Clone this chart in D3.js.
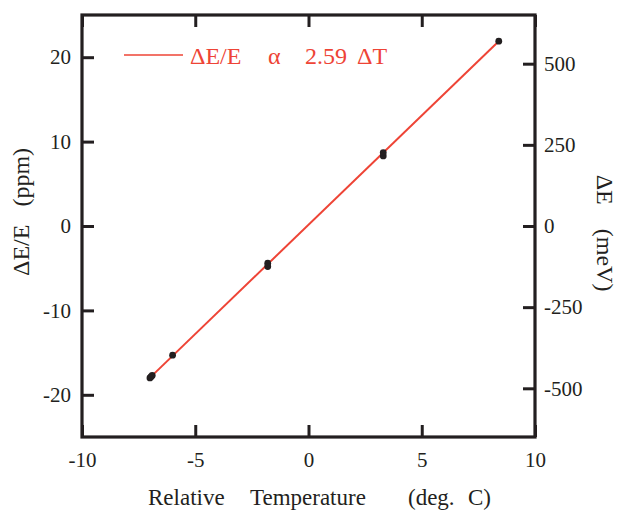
<!DOCTYPE html>
<html>
<head>
<meta charset="utf-8">
<script src="https://cdn.jsdelivr.net/npm/d3@7"></script>
<style>
  body { margin: 0; background: #fff; }
  svg text { font-family: "Liberation Serif", "DejaVu Serif", "Times New Roman", Times, serif; fill: #231f20; white-space: pre; }
</style>
</head>
<body>
<svg id="chart" width="620" height="512"></svg>
<script>
// measured points: relative temperature (deg C) vs dE/E (ppm)
var tempVals = [-7.0, -6.9, -6.95, -6.0, -1.8, -1.8, 3.3, 3.3, 8.4];
var ppmVals  = [-18.0, -17.7, -17.85, -15.3, -4.4, -4.8, 8.3, 8.7, 21.9];

// fitted line end points (dE/E ~ 2.59 dT)
var fitTemp = [-6.95, 8.4];
var fitPpm  = [-17.85, 21.9];

var xTicks = [-10, -5, 0, 5, 10];
var yTicks = [-20, -10, 0, 10, 20];
var meVTicks = [-500, -250, 0, 250, 500];

// legend and title pieces, spread out like the original
var legendParts = ["\u0394E/E", "\u03b1", "2.59", "\u0394T"];
var legendX = [190, 268, 305, 357];
var xTitleParts = ["Relative", "Temperature", "(deg.", "C)"];
var xTitleX = [148, 250, 408, 468];

var INK = "#231f20";
var RED = "#ee4436";
var SERIF = "'Liberation Serif', 'DejaVu Serif', 'Times New Roman', serif";

// plot box (don't call these top/left: window.top is taken)
var plotL = 82, plotR = 535, plotT = 15, plotB = 437;

var svg = d3.select("#chart");

var x = d3.scaleLinear().domain([-10, 10]).range([plotL, plotR]);
var y = d3.scaleLinear().domain([-25, 25]).range([plotB, plotT]);
var yE = d3.scaleLinear().domain([-650, 650]).range([plotB, plotT]);

// axes, ticks pointing inward
var tickLen = 12;
var plain = function (d) { return String(d); };

function styleAxis(g) {
    g.attr("font-family", null).attr("font-size", null);
    g.select(".domain").remove();
    g.selectAll(".tick line").attr("stroke", INK).attr("stroke-width", 3);
    g.selectAll(".tick text").attr("fill", INK)
        .style("font-family", SERIF).style("font-size", "21px");
}

svg.append("g")
    .attr("transform", "translate(0," + plotB + ")")
    .call(d3.axisBottom(x).tickValues(xTicks).tickSize(-tickLen).tickPadding(15)
        .tickFormat(plain))
    .call(styleAxis);

svg.append("g")
    .attr("transform", "translate(0," + plotT + ")")
    .call(d3.axisTop(x).tickValues(xTicks).tickSize(-tickLen).tickFormat(""))
    .call(styleAxis);

svg.append("g")
    .attr("transform", "translate(" + plotL + ",0)")
    .call(d3.axisLeft(y).tickValues(yTicks).tickSize(-tickLen).tickPadding(11)
        .tickFormat(plain))
    .call(styleAxis);

svg.append("g")
    .attr("transform", "translate(" + plotR + ",0)")
    .call(d3.axisRight(yE).tickValues(meVTicks).tickSize(-tickLen).tickPadding(9)
        .tickFormat(plain))
    .call(styleAxis);

// frame
svg.append("rect")
    .attr("x", plotL).attr("y", plotT)
    .attr("width", plotR - plotL).attr("height", plotB - plotT)
    .attr("fill", "none").attr("stroke", INK).attr("stroke-width", 3.2);

// fit line
var line = d3.line()
    .x(function (d) { return x(d[0]); })
    .y(function (d) { return y(d[1]); });

svg.append("path")
    .datum(d3.zip(fitTemp, fitPpm))
    .attr("d", line)
    .attr("fill", "none")
    .attr("stroke", RED)
    .attr("stroke-width", 2);

// data points
svg.append("g").selectAll("circle")
    .data(d3.zip(tempVals, ppmVals)).enter()
    .append("circle")
    .attr("cx", function (d) { return x(d[0]); })
    .attr("cy", function (d) { return y(d[1]); })
    .attr("r", 3.4)
    .attr("fill", INK);

// legend
svg.append("line")
    .attr("x1", 124).attr("x2", 183)
    .attr("y1", 55).attr("y2", 55)
    .attr("stroke", RED).attr("stroke-width", 1.5);

svg.append("text")
    .attr("y", 64)
    .style("font-family", SERIF)
    .style("font-size", "24px")
    .style("fill", RED)
    .selectAll("tspan")
    .data(d3.zip(legendParts, legendX)).enter()
    .append("tspan")
    .attr("x", function (d) { return d[1]; })
    .text(function (d) { return d[0]; });

// axis titles
svg.append("text")
    .attr("y", 505)
    .style("font-family", SERIF)
    .style("font-size", "23px")
    .selectAll("tspan")
    .data(d3.zip(xTitleParts, xTitleX)).enter()
    .append("tspan")
    .attr("x", function (d) { return d[1]; })
    .text(function (d) { return d[0]; });

svg.append("text")
    .attr("transform", "translate(29,212) rotate(-90)")
    .attr("text-anchor", "middle")
    .style("font-family", SERIF)
    .style("font-size", "24px")
    .text("\u0394E/E   (ppm)");

svg.append("text")
    .attr("transform", "translate(597,233) rotate(90)")
    .attr("text-anchor", "middle")
    .style("font-family", SERIF)
    .style("font-size", "24px")
    .text("\u0394E    (meV)");
</script>
</body>
</html>
